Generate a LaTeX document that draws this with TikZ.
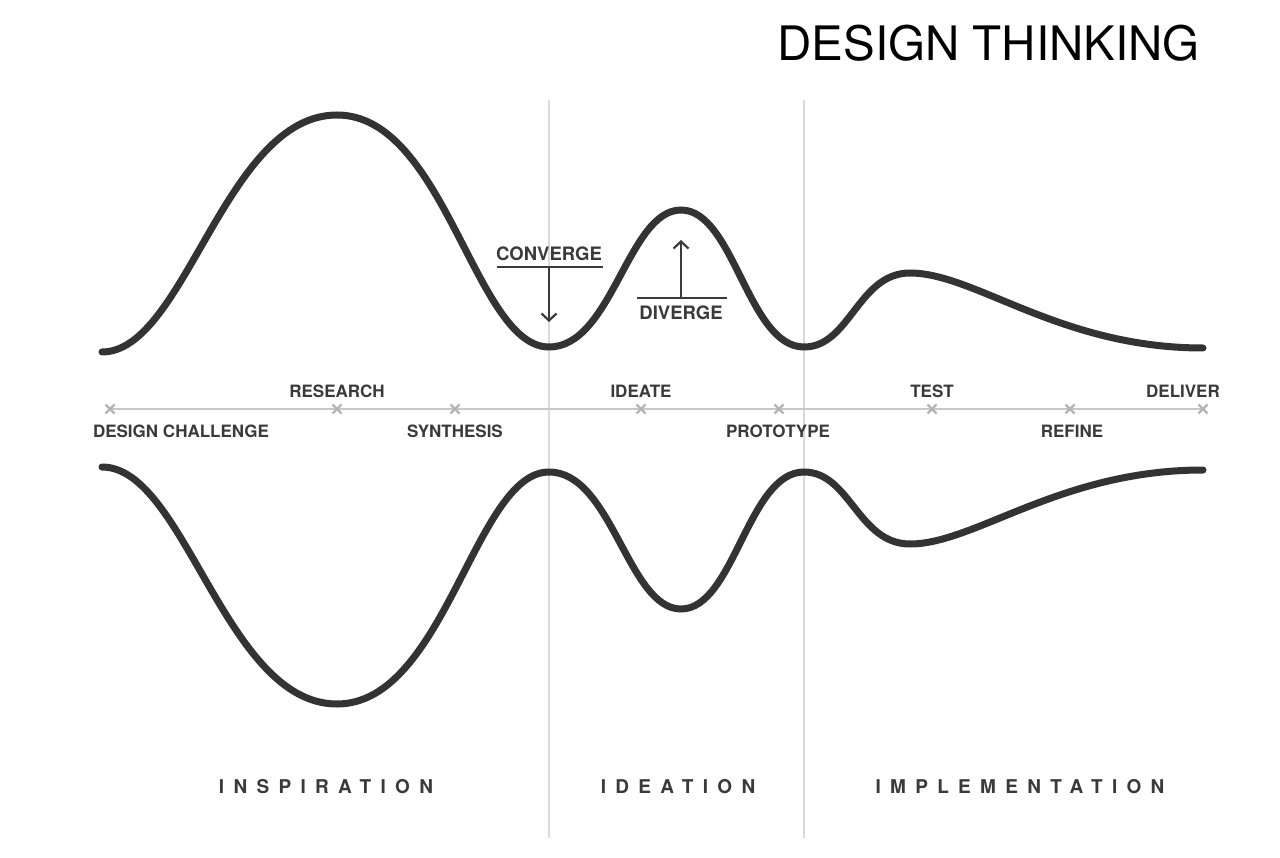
\documentclass[tikz,border=0pt]{standalone}
\usepackage{fontspec}
\setmainfont{TeX Gyre Heros}
\usetikzlibrary{positioning,arrows.meta}
\definecolor{curvegray}{HTML}{333333}
\definecolor{textgray}{HTML}{3A3A3A}
\definecolor{axisgray}{HTML}{C8C8C8}
\definecolor{divgray}{HTML}{DADADA}
\definecolor{crossgray}{HTML}{B4B4B4}

\tikzset{
  wave/.style={line width=7pt, curvegray, line cap=round},
  divider/.style={line width=1.2pt, divgray},
  axisline/.style={line width=1.3pt, axisgray},
  cross/.style={crossgray, line width=2.2pt},
  steplabel/.style={font=\bfseries\fontsize{17}{19}\selectfont, textgray, inner sep=0pt},
  phaselabel/.style={font=\bfseries\fontsize{19}{21}\selectfont\addfontfeature{LetterSpace=49}, textgray, inner sep=0pt},
  cdlabel/.style={font=\bfseries\fontsize{18.5}{20}\selectfont, textgray, inner sep=0pt},
  cdline/.style={line width=2.2pt, textgray},
}

\begin{document}
\begin{tikzpicture}[x=1pt, y=-1pt]
\useasboundingbox[fill=white] (0,0) rectangle (1280,858);

        % Title
        \node[anchor=east, inner sep=0pt, font=\fontsize{47.5}{52}\selectfont] (title) at (1200,43) {DESIGN THINKING};

        % Phase dividers
        \coordinate (V1top) at (549,100);
        \coordinate (V1bot) at (549,838);
        \coordinate (V2top) at (804,100);
        \coordinate (V2bot) at (804,838);
        \draw[divider] (V1top) -- (V1bot);
        \draw[divider] (V2top) -- (V2bot);

        % Axis end points
        \coordinate (Astart) at (110,409);
        \coordinate (Aend) at (1203,409);
        \draw[axisline] (Astart) -- (Aend);

        % Steps on the axis
        \foreach \name/\xpos in {dc/110, res/337, syn/455, ide/641, pro/779, tst/932, ref/1070, del/1203}{
          \coordinate (\name) at (\xpos,409);
          \draw[cross] ([shift={(-4.5,-4.5)}]\name) -- ([shift={(4.5,4.5)}]\name)
                       ([shift={(-4.5,4.5)}]\name) -- ([shift={(4.5,-4.5)}]\name);
        }

        % Labels above the axis
        \node[steplabel] (Lres) at (337,391) {RESEARCH};
        \node[steplabel] (Lide) at (641,391) {IDEATE};
        \node[steplabel] (Ltst) at (932,391) {TEST};
        \node[steplabel] (Ldel) at (1183,391) {DELIVER};

        % Labels below the axis
        \node[steplabel] (Ldc) at (181,431) {DESIGN CHALLENGE};
        \node[steplabel] (Lsyn) at (455,431) {SYNTHESIS};
        \node[steplabel] (Lpro) at (778,431) {PROTOTYPE};
        \node[steplabel] (Lref) at (1072,431) {REFINE};

        % Upper wave
        \draw[wave] (102,352) .. controls (185,352) and (225,115) .. (337,115)
                    .. controls (445,115) and (475,347) .. (549,347)
                    .. controls (612,347) and (628,210) .. (681,210)
                    .. controls (734,210) and (748,347) .. (804,347)
                    .. controls (850,347) and (858,273) .. (910,273)
                    .. controls (975,273) and (1060,348) .. (1203,348);

        % Lower wave (mirror)
        \draw[wave] (102,467) .. controls (185,467) and (225,704) .. (337,704)
                    .. controls (445,704) and (475,472) .. (549,472)
                    .. controls (612,472) and (628,609) .. (681,609)
                    .. controls (734,609) and (748,472) .. (804,472)
                    .. controls (850,472) and (858,544) .. (910,544)
                    .. controls (975,544) and (1060,470) .. (1203,470);

        % Converge
        \node[cdlabel] (conv) at (549,254) {CONVERGE};
        \coordinate (CLleft) at (497,267);
        \coordinate (CLright) at (603,267);
        \coordinate (CLmid) at (549,267);
        \coordinate (CLtip) at (549,322);
        \draw[cdline] (CLleft) -- (CLright);
        \draw[cdline, -{Straight Barb[length=7pt, width=15pt]}] (CLmid) -- (CLtip);

        % Diverge
        \node[cdlabel] (div) at (681,313) {DIVERGE};
        \coordinate (DLleft) at (637,298);
        \coordinate (DLright) at (727,298);
        \coordinate (DLmid) at (681,298);
        \coordinate (DLtip) at (681,240);
        \draw[cdline] (DLleft) -- (DLright);
        \draw[cdline, -{Straight Barb[length=7pt, width=15pt]}] (DLmid) -- (DLtip);

        % Phases
        \node[phaselabel] (insp) at (326,787) {INSPIRATION};
        \node[phaselabel] (idea) at (678,787) {IDEATION};
        \node[phaselabel] (impl) at (1020,787) {IMPLEMENTATION};
\end{tikzpicture}
\end{document}
